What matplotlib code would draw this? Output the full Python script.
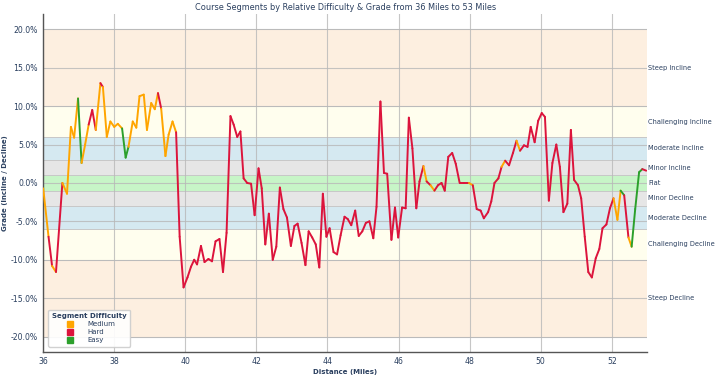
import matplotlib
matplotlib.use("Agg")
import matplotlib.pyplot as plt
from matplotlib.lines import Line2D

# ======================
# Data
# ======================
distance = [
    36.00, 36.15, 36.25, 36.36, 36.54, 36.67, 36.78, 36.87, 36.98, 37.08,
    37.18, 37.28, 37.38, 37.48, 37.61, 37.68, 37.79, 37.89, 38.00, 38.10,
    38.22, 38.32, 38.40, 38.52, 38.62, 38.71, 38.83, 38.92, 39.04, 39.14,
    39.23, 39.32, 39.44, 39.53, 39.64, 39.74, 39.84, 39.95, 40.06, 40.16,
    40.25, 40.33, 40.44, 40.54, 40.65, 40.75, 40.85, 40.96, 41.06, 41.16,
    41.27, 41.36, 41.46, 41.55, 41.64, 41.74, 41.85, 41.95, 42.06, 42.15,
    42.25, 42.35, 42.46, 42.56, 42.66, 42.76, 42.86, 42.97, 43.07, 43.16,
    43.27, 43.38, 43.47, 43.57, 43.67, 43.77, 43.87, 43.97, 44.06, 44.17,
    44.27, 44.37, 44.48, 44.57, 44.67, 44.78, 44.88, 44.98, 45.08, 45.18,
    45.29, 45.38, 45.49, 45.59, 45.68, 45.80, 45.90, 45.99, 46.10, 46.20,
    46.29, 46.39, 46.50, 46.59, 46.70, 46.79, 46.90, 47.01, 47.11, 47.21,
    47.30, 47.40, 47.51, 47.61, 47.72, 47.84, 47.98, 48.09, 48.20, 48.31,
    48.40, 48.52, 48.61, 48.70, 48.81, 48.90, 49.00, 49.11, 49.22, 49.32,
    49.42, 49.53, 49.63, 49.72, 49.83, 49.93, 50.03, 50.12, 50.23, 50.33,
    50.44, 50.54, 50.64, 50.75, 50.85, 50.94, 51.05, 51.14, 51.24, 51.34,
    51.44, 51.55, 51.65, 51.74, 51.85, 51.95, 52.05, 52.16, 52.25, 52.35,
    52.47, 52.56, 52.66, 52.77, 52.86, 52.97,
]

grade = [
    -0.7, -7.0, -10.8, -11.6, 0.0, -1.4, 7.3, 5.9, 11.0, 2.6,
    5.0, 7.6, 9.5, 6.9, 13.0, 12.5, 6.0, 8.0, 7.3, 7.7,
    7.1, 3.3, 4.7, 8.0, 7.2, 11.3, 11.5, 6.9, 10.4, 9.6,
    11.7, 9.7, 3.5, 6.3, 8.0, 6.6, -7.0, -13.6, -12.3, -10.9,
    -10.0, -10.6, -8.2, -10.3, -9.9, -10.2, -7.6, -7.3, -11.6, -6.5,
    8.7, 7.6, 6.0, 6.7, 0.6, 0.0, -0.1, -4.2, 1.9, -0.7,
    -8.0, -4.0, -10.0, -8.3, -0.6, -3.4, -4.5, -8.2, -5.6, -5.3,
    -7.8, -10.7, -6.3, -7.1, -8.0, -11.0, -1.4, -7.0, -5.9, -9.0,
    -9.3, -6.8, -4.4, -4.7, -5.5, -3.6, -6.9, -6.3, -5.2, -5.0,
    -7.2, -3.1, 10.6, 1.3, 1.2, -7.4, -3.2, -7.1, -3.2, -3.3,
    8.5, 4.5, -3.3, 0.2, 2.2, 0.2, -0.3, -1.0, -0.3, 0.0,
    -1.0, 3.4, 3.9, 2.5, 0.0, 0.0, 0.0, -0.3, -3.4, -3.6,
    -4.6, -3.8, -2.4, 0.0, 0.6, 2.1, 2.9, 2.3, 3.9, 5.5,
    4.2, 4.9, 4.7, 7.3, 5.3, 8.1, 9.1, 8.6, -2.3, 2.6,
    5.0, 2.1, -3.8, -2.7, 6.9, 0.4, -0.3, -2.0, -7.0, -11.6,
    -12.3, -9.8, -8.6, -5.9, -5.4, -3.3, -2.0, -4.8, -1.0, -1.6,
    -7.1, -8.3, -3.4, 1.4, 1.8, 1.6,
]

# difficulty of each segment (point i -> point i+1)
difficulty = [
    "Medium", "Hard", "Medium", "Hard", "Medium", "Medium", "Medium", "Medium", "Easy", "Medium",
    "Medium", "Hard", "Hard", "Medium", "Hard", "Medium", "Medium", "Medium", "Medium", "Medium",
    "Easy", "Easy", "Medium", "Medium", "Medium", "Medium", "Medium", "Medium", "Medium", "Medium",
    "Hard", "Medium", "Medium", "Medium", "Medium", "Hard", "Hard", "Hard", "Hard", "Hard",
] + ["Hard"] * 60 + [
    "Hard", "Hard", "Hard", "Hard", "Medium", "Hard", "Medium", "Hard", "Hard", "Hard",
    "Hard", "Hard", "Hard", "Hard", "Hard", "Hard", "Medium", "Hard", "Hard", "Hard",
    "Hard", "Hard", "Hard", "Hard", "Hard", "Medium", "Hard", "Hard", "Hard", "Medium",
] + ["Hard"] * 20 + [
    "Hard", "Hard", "Hard", "Hard", "Hard", "Hard", "Medium", "Medium", "Easy", "Hard",
    "Medium", "Easy", "Easy", "Easy", "Hard",
]

difficulty_colors = {"Medium": "#FFA500", "Hard": "#DC143C", "Easy": "#2CA02C"}

# grade bands
band_low = [10, 6, 3, 1, -1, -3, -6, -10, -20]
band_high = [20, 10, 6, 3, 1, -1, -3, -6, -10]
band_colors = ["#fdefe0", "#fffeee", "#d5e9f1", "#e6e6e6", "#c7f5c7",
               "#e6e6e6", "#d5e9f1", "#fffeee", "#fdefe0"]
band_labels = ["Steep Incline", "Challenging Incline", "Moderate Incline",
               "Minor Incline", "Flat", "Minor Decline", "Moderate Decline",
               "Challenging Decline", "Steep Decline"]
band_label_y = [15, 8, 4.5, 2, 0, -2, -4.5, -8, -15]

text_color = "#2a3f5f"

# ======================
# Plot
# ======================
fig, ax = plt.subplots(figsize=(7.2, 3.78), dpi=100)
fig.subplots_adjust(left=0.06, right=0.899, top=0.963, bottom=0.069)

for lo, hi, col in zip(band_low, band_high, band_colors):
    ax.axhspan(lo, hi, facecolor=col, edgecolor="#c8c8c8", linewidth=0.7, zorder=0)

for lab, yy in zip(band_labels, band_label_y):
    ax.text(53.02, yy, lab, ha="left", va="center", fontsize=4.8,
            color=text_color)

ax.grid(True, color="#b8b8b8", linewidth=0.8, alpha=0.8, zorder=1)
ax.set_axisbelow(True)

for i in range(len(distance) - 1):
    ax.plot(distance[i:i + 2], grade[i:i + 2],
            color=difficulty_colors[difficulty[i]], linewidth=1.4,
            solid_capstyle="round", zorder=3)

ax.set_xlim(36, 53)
ax.set_ylim(-22, 22)
ax.set_xticks(range(36, 53, 2))
ax.set_yticks(range(-20, 21, 5))
ax.set_yticklabels([f"{v:.1f}%" for v in range(-20, 21, 5)])
ax.tick_params(labelsize=5.6, colors=text_color, length=0, pad=4)

for side in ["top", "right"]:
    ax.spines[side].set_visible(False)
for side in ["left", "bottom"]:
    ax.spines[side].set_color("#555555")
    ax.spines[side].set_linewidth(1.0)

ax.set_title("Course Segments by Relative Difficulty & Grade from 36 Miles to 53 Miles",
             fontsize=5.9, color=text_color, pad=3)
ax.set_xlabel("Distance (Miles)", fontsize=5, fontweight="bold", color=text_color, labelpad=2)
ax.set_ylabel("Grade (Incline / Decline)", fontsize=5, fontweight="bold", color=text_color, labelpad=2)

handles = [Line2D([0], [0], marker="s", linestyle="", markersize=5,
                  markerfacecolor=difficulty_colors[k], markeredgecolor=difficulty_colors[k],
                  label=k) for k in ["Medium", "Hard", "Easy"]]
leg = ax.legend(handles=handles, title="Segment Difficulty", loc="lower left",
                fontsize=5, title_fontsize=5, frameon=True, framealpha=0.9,
                edgecolor="#cccccc", borderpad=0.5, labelspacing=0.3,
                handletextpad=1.5, bbox_to_anchor=(0.003, 0.005))
leg.get_title().set_fontweight("bold")
leg.get_title().set_color(text_color)
for t in leg.get_texts():
    t.set_color(text_color)

fig.savefig("out.png", dpi=100)
